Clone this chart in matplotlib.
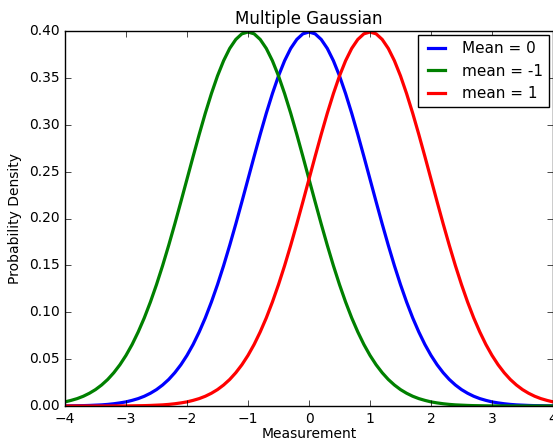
import numpy as np
import matplotlib
matplotlib.use('Agg')
import matplotlib.pyplot as plt

plt.style.use('classic')
plt.rcParams.update({'font.size': 10, 'figure.facecolor': 'white', 'savefig.facecolor': 'white'})

# sample positions along the measurement axis (step 0.1)
x = np.linspace(-4, 4, 81)

mean_0 = [0.0001, 0.0002, 0.0003, 0.0004, 0.0006, 0.0009, 0.0012, 0.0017, 0.0024, 0.0033,
          0.0044, 0.0060, 0.0079, 0.0104, 0.0136, 0.0175, 0.0224, 0.0283, 0.0355, 0.0440,
          0.0540, 0.0656, 0.0790, 0.0940, 0.1109, 0.1295, 0.1497, 0.1714, 0.1942, 0.2179,
          0.2420, 0.2661, 0.2897, 0.3123, 0.3332, 0.3521, 0.3683, 0.3814, 0.3910, 0.3970,
          0.3989,
          0.3970, 0.3910, 0.3814, 0.3683, 0.3521, 0.3332, 0.3123, 0.2897, 0.2661, 0.2420,
          0.2179, 0.1942, 0.1714, 0.1497, 0.1295, 0.1109, 0.0940, 0.0790, 0.0656, 0.0540,
          0.0440, 0.0355, 0.0283, 0.0224, 0.0175, 0.0136, 0.0104, 0.0079, 0.0060, 0.0044,
          0.0033, 0.0024, 0.0017, 0.0012, 0.0009, 0.0006, 0.0004, 0.0003, 0.0002, 0.0001]

mean_m1 = [0.0044, 0.0060, 0.0079, 0.0104, 0.0136, 0.0175, 0.0224, 0.0283, 0.0355, 0.0440,
           0.0540, 0.0656, 0.0790, 0.0940, 0.1109, 0.1295, 0.1497, 0.1714, 0.1942, 0.2179,
           0.2420, 0.2661, 0.2897, 0.3123, 0.3332, 0.3521, 0.3683, 0.3814, 0.3910, 0.3970,
           0.3989,
           0.3970, 0.3910, 0.3814, 0.3683, 0.3521, 0.3332, 0.3123, 0.2897, 0.2661, 0.2420,
           0.2179, 0.1942, 0.1714, 0.1497, 0.1295, 0.1109, 0.0940, 0.0790, 0.0656, 0.0540,
           0.0440, 0.0355, 0.0283, 0.0224, 0.0175, 0.0136, 0.0104, 0.0079, 0.0060, 0.0044,
           0.0033, 0.0024, 0.0017, 0.0012, 0.0009, 0.0006, 0.0004, 0.0003, 0.0002, 0.0001,
           0.0001, 0.0001, 0.0000, 0.0000, 0.0000, 0.0000, 0.0000, 0.0000, 0.0000, 0.0000]

mean_p1 = mean_m1[::-1]

fig = plt.figure(figsize=(5.53, 4.41), dpi=100)
ax = fig.add_axes([65/553, 35/441, 488/553, 375/441])

ax.plot(x, mean_0, color='b', lw=2.3, label='Mean = 0')
ax.plot(x, mean_m1, color='g', lw=2.3, label='mean = -1')
ax.plot(x, mean_p1, color='r', lw=2.3, label='mean = 1')

ax.set_xlim(-4, 4)
ax.set_ylim(0, 0.4)
ax.set_yticks(np.arange(0, 0.41, 0.05))
ax.set_yticklabels([f'{v:.2f}' for v in np.arange(0, 0.41, 0.05)])
ax.set_xlabel('Measurement', fontsize=10, labelpad=1)
ax.set_ylabel('Probability Density', fontsize=10)
ax.set_title('Multiple Gaussian', fontsize=12)
ax.legend(loc='upper right', fontsize=11, borderaxespad=0.25, handlelength=1.7)

fig.savefig('out.png', dpi=100)
